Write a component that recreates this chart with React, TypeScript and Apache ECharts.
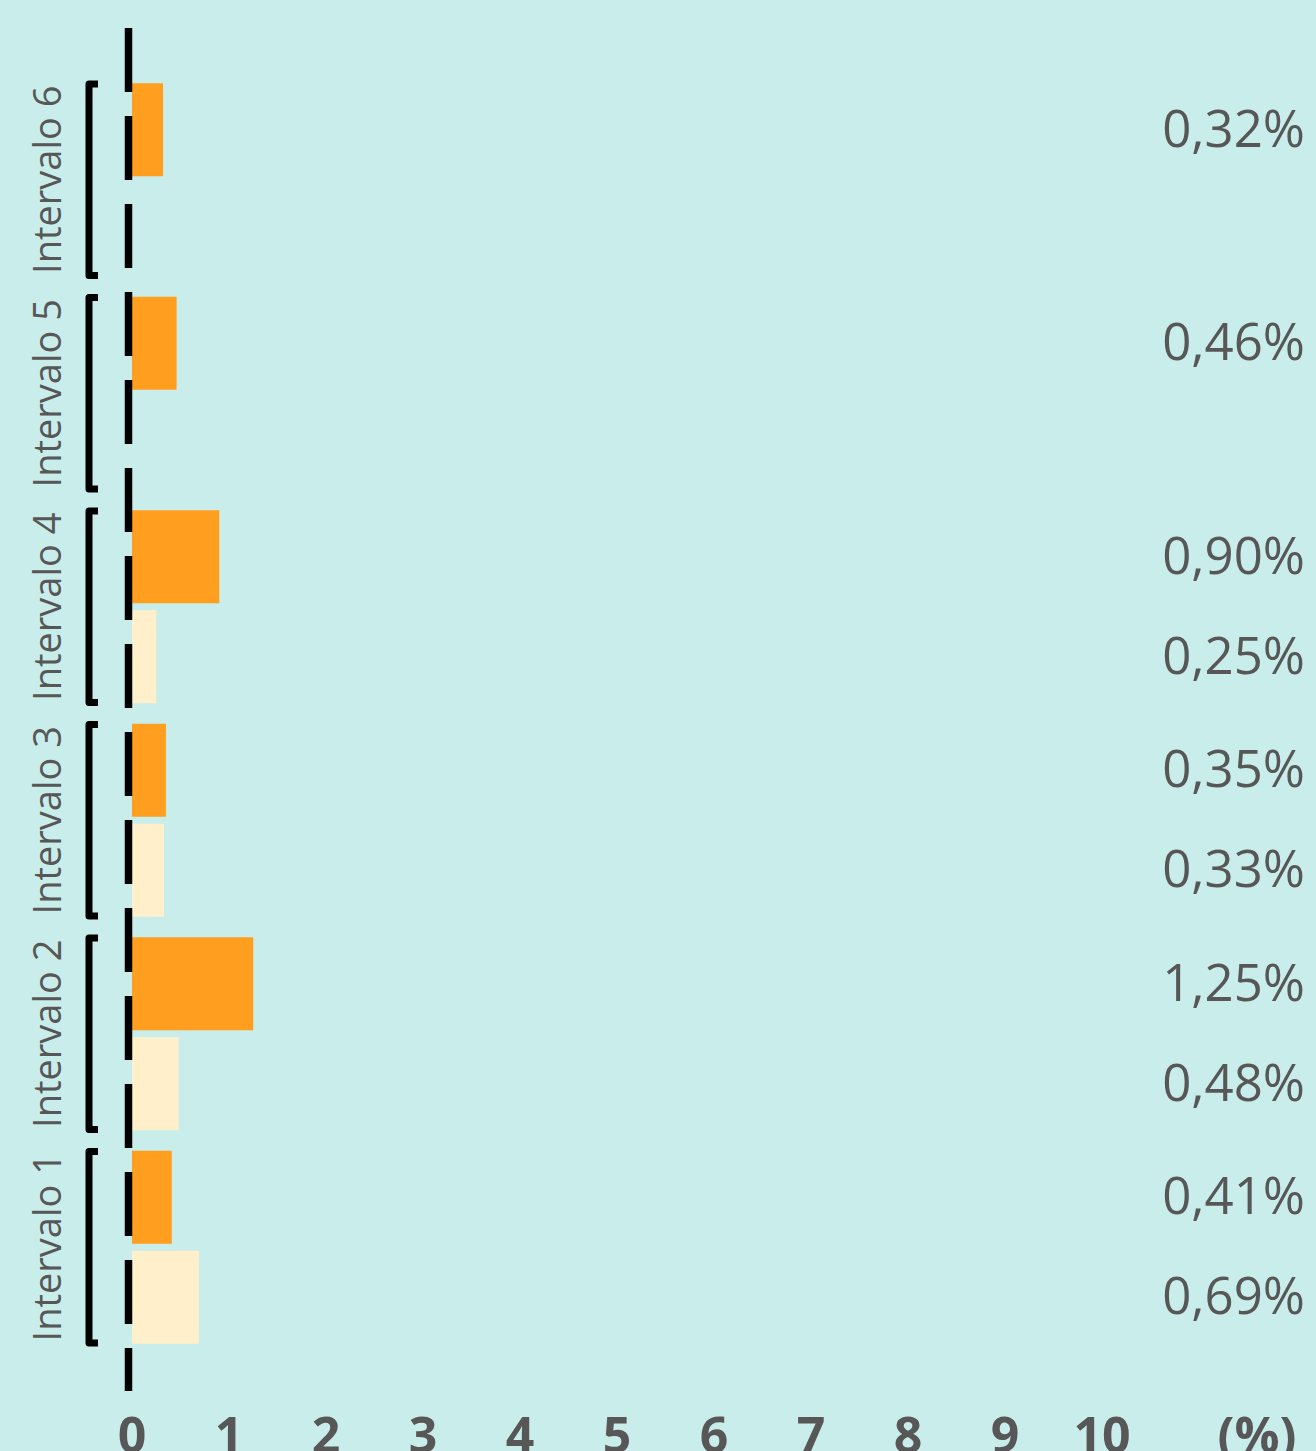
import React, { useEffect, useRef } from "react";
import * as echarts from "echarts";

const categories = ["Intervalo 1", "Intervalo 2", "Intervalo 3", "Intervalo 4", "Intervalo 5", "Intervalo 6"];
const seriesA = [0.41, 1.25, 0.35, 0.9, 0.46, 0.32];
const seriesB: (number | null)[] = [0.69, 0.48, 0.33, 0.25, null, null];
const xTicks = [0, 1, 2, 3, 4, 5, 6, 7, 8, 9, 10];
const unitLabel = "(%)";

const BG = "#c9edea";
const TEXT = "#575757";
const ORANGE = "#ff9e1f";
const LIGHT = "#fff0cb";

const GRID_LEFT = 132;
const GRID_WIDTH = 970;
const GRID_TOP = 73;
const GRID_BOTTOM_PX = 1354;
const LABEL_RIGHT = 1305;

const fmt = (v: number) => v.toFixed(2).replace(".", ",") + "%";

export default function App() {
  const ref = useRef<HTMLDivElement>(null);
  useEffect(() => {
    if (!ref.current) return;
    const chart = echarts.init(ref.current, null, { renderer: "svg" });
    const barLabel = {
      show: true,
      position: [LABEL_RIGHT - GRID_LEFT, "50%"],
      offset: [0, -3],
      align: "right",
      verticalAlign: "middle",
      color: TEXT,
      fontSize: 51,
      fontFamily: "Open Sans",
      formatter: (p: any) => fmt(p.value),
    };
    chart.setOption({
      animation: false,
      backgroundColor: BG,
      grid: {
        left: GRID_LEFT,
        width: GRID_WIDTH,
        top: GRID_TOP,
        bottom: 1451 - GRID_BOTTOM_PX,
        containLabel: false,
        outerBoundsMode: "none",
      },
      xAxis: {
        type: "value",
        min: 0,
        max: 10,
        interval: 1,
        axisLine: { show: false },
        axisTick: { show: false },
        splitLine: { show: false },
        axisLabel: {
          color: TEXT,
          fontSize: 50,
          fontWeight: "bold",
          fontFamily: "Open Sans",
          margin: 55,
          formatter: (v: number) => (xTicks.includes(v) ? String(v) : ""),
        },
      },
      yAxis: {
        type: "category",
        data: categories,
        axisLine: { show: false },
        axisTick: { show: false },
        splitLine: { show: false },
        axisLabel: {
          interval: 0,
          rotate: 90,
          color: TEXT,
          fontSize: 38,
          fontFamily: "Open Sans",
          margin: 67,
        },
      },
      graphic: [
        {
          type: "line",
          z: 100,
          shape: { x1: 128.5, y1: 28, x2: 128.5, y2: 1391 },
          style: { stroke: "#000", lineWidth: 7.5, lineDash: [64, 24] },
        },
        {
          type: "text",
          x: 1257,
          y: 1434,
          style: {
            text: unitLabel,
            fill: TEXT,
            fontSize: 50,
            fontWeight: "bold",
            fontFamily: "Open Sans",
            align: "center",
            verticalAlign: "middle",
          },
        },
      ],
      series: [
        {
          type: "bar",
          data: seriesA,
          barWidth: 93,
          barGap: "7.5%",
          itemStyle: { color: ORANGE },
          label: barLabel,
        },
        {
          type: "bar",
          data: seriesB.map((v) => (v == null ? "-" : v)),
          barWidth: 93,
          barGap: "7.5%",
          itemStyle: { color: LIGHT },
          label: barLabel,
        },
        {
          type: "custom",
          silent: true,
          data: categories.map((c, i) => [0, i]),
          encode: { x: 0, y: 1 },
          renderItem: (params: any, api: any) => {
            const idx = api.value(1);
            const c = api.coord([0, idx]);
            const h = api.size([0, 1])[1];
            const top = c[1] - h / 2 + 11;
            const bottom = c[1] + h / 2 - 11;
            const xv = c[0] - 43;
            const xs = c[0] - 34;
            return {
              type: "polyline",
              shape: { points: [[xs, top], [xv, top], [xv, bottom], [xs, bottom]] },
              style: { stroke: "#000", fill: null, lineWidth: 7, lineJoin: "round" },
            };
          },
        },
      ],
    });
    return () => chart.dispose();
  }, []);
  return (
    <div
      ref={ref}
      style={{ position: "absolute", left: 0, top: 0, width: 1316, height: 1451 }}
    />
  );
}
